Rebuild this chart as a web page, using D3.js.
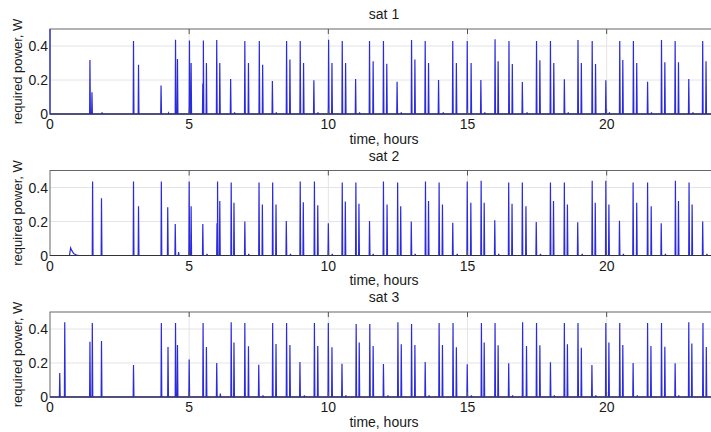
<!DOCTYPE html>
<html>
<head>
<meta charset="utf-8">
<script src="https://cdn.jsdelivr.net/npm/d3@7"></script>
<style>
  body { margin: 0; background: #fff; }
  text { font-family: "Liberation Sans", Arial, sans-serif; fill: #1a1a1a; }
</style>
</head>
<body>
<svg id="chart" width="711" height="432"></svg>
<script>
var titles = ["sat 1", "sat 2", "sat 3"];
var xTicks = [0, 5, 10, 15, 20];
var yTicks = [0, 0.2, 0.4];

// [time in hours, peak power in W]
var sat1Spikes = [
  [1.435,0.318],[1.507,0.128],[1.87,0.01],[3.0,0.43],[3.18,0.29],[3.99,0.167],[4.26,0.006],
  [4.51,0.437],[4.58,0.324],[5.01,0.433],[5.07,0.30],[5.49,0.18],[5.51,0.433],[5.62,0.30],
  [5.99,0.435],[6.1,0.30],[6.49,0.206],[6.63,0.01],[7.0,0.43],[7.13,0.30],[7.52,0.43],[7.64,0.29],
  [7.99,0.194],[8.13,0.01],[8.5,0.43],[8.62,0.32],[8.99,0.43],[9.11,0.30],[9.48,0.198],[9.63,0.01],
  [10.01,0.437],[10.13,0.30],[10.5,0.43],[10.62,0.30],[10.98,0.206],[11.12,0.01],[11.48,0.43],
  [11.61,0.31],[11.98,0.43],[12.1,0.295],[12.47,0.19],[12.62,0.01],[12.99,0.435],[13.11,0.32],
  [13.48,0.43],[13.6,0.30],[13.96,0.20],[14.13,0.01],[14.47,0.43],[14.6,0.30],[14.99,0.43],
  [15.13,0.30],[15.48,0.20],[15.62,0.01],[15.99,0.44],[16.1,0.31],[16.49,0.43],[16.61,0.294],
  [16.97,0.188],[17.14,0.01],[17.48,0.43],[17.6,0.316],[17.98,0.43],[18.1,0.30],[18.48,0.204],
  [18.62,0.01],[18.97,0.435],[19.09,0.30],[19.48,0.43],[19.6,0.294],[19.97,0.198],[20.1,0.01],
  [20.47,0.43],[20.58,0.318],[20.96,0.43],[21.08,0.30],[21.47,0.19],[21.61,0.01],[21.97,0.435],
  [22.09,0.305],[22.46,0.43],[22.58,0.305],[22.95,0.206],[23.1,0.01],[23.45,0.43],[23.57,0.31]
];

var sat2Hump = [[0.70,0],[0.74,0.045],[0.78,0.03],[0.85,0.012],[0.95,0.003],[1.05,0]];

var sat2Spikes = [
  [1.53,0.435],[1.85,0.337],[3.0,0.435],[3.18,0.29],[4.0,0.435],[4.23,0.284],[4.5,0.185],
  [4.62,0.02],[5.0,0.435],[5.07,0.29],[5.49,0.185],[5.64,0.01],[6.0,0.19],[6.02,0.435],[6.1,0.32],
  [6.51,0.43],[6.61,0.31],[7.0,0.20],[7.14,0.01],[7.51,0.43],[7.63,0.30],[8.0,0.43],[8.12,0.30],
  [8.49,0.203],[8.64,0.01],[8.99,0.435],[9.1,0.313],[9.5,0.435],[9.62,0.296],[10.0,0.19],
  [10.14,0.01],[10.5,0.43],[10.61,0.317],[10.99,0.43],[11.1,0.305],[11.48,0.203],[11.61,0.01],
  [11.98,0.435],[12.11,0.30],[12.49,0.43],[12.6,0.29],[12.98,0.20],[13.12,0.01],[13.49,0.435],
  [13.6,0.32],[13.98,0.43],[14.1,0.30],[14.47,0.193],[14.63,0.01],[14.99,0.435],[15.12,0.31],
  [15.49,0.44],[15.6,0.31],[15.98,0.207],[16.12,0.01],[16.48,0.43],[16.6,0.305],[16.97,0.43],
  [17.1,0.29],[17.47,0.197],[17.62,0.01],[17.98,0.43],[18.09,0.32],[18.48,0.43],[18.59,0.30],
  [18.96,0.195],[19.12,0.01],[19.48,0.44],[19.59,0.31],[19.97,0.44],[20.08,0.30],[20.46,0.205],
  [20.6,0.01],[20.95,0.43],[21.08,0.31],[21.47,0.43],[21.6,0.29],[21.96,0.19],[22.11,0.01],
  [22.47,0.44],[22.58,0.32],[22.96,0.43],[23.07,0.30],[23.45,0.20],[23.6,0.01]
];

var sat3Spikes = [
  [0.35,0.141],[0.53,0.44],[1.435,0.325],[1.52,0.435],[1.85,0.33],[3.0,0.188],[4.0,0.435],
  [4.24,0.294],[4.51,0.435],[4.58,0.306],[5.0,0.22],[5.5,0.435],[5.62,0.294],[5.99,0.20],
  [6.12,0.02],[6.51,0.44],[6.61,0.32],[7.0,0.435],[7.13,0.298],[7.5,0.19],[7.65,0.01],[8.0,0.435],
  [8.12,0.312],[8.5,0.435],[8.62,0.306],[8.98,0.206],[9.14,0.01],[9.5,0.435],[9.62,0.30],
  [10.0,0.435],[10.13,0.292],[10.49,0.196],[10.63,0.01],[11.0,0.43],[11.11,0.32],[11.49,0.43],
  [11.61,0.30],[11.98,0.194],[12.14,0.01],[12.5,0.44],[12.62,0.31],[12.99,0.43],[13.11,0.306],
  [13.48,0.206],[13.62,0.01],[13.98,0.435],[14.1,0.306],[14.48,0.435],[14.6,0.292],[14.99,0.192],
  [15.14,0.01],[15.5,0.435],[15.6,0.32],[15.99,0.435],[16.1,0.305],[16.48,0.198],[16.62,0.01],
  [16.98,0.44],[17.12,0.30],[17.48,0.435],[17.6,0.305],[17.98,0.204],[18.12,0.01],[18.48,0.435],
  [18.59,0.31],[18.97,0.435],[19.09,0.29],[19.47,0.188],[19.61,0.01],[19.97,0.435],[20.08,0.32],
  [20.47,0.435],[20.58,0.306],[20.95,0.20],[21.1,0.01],[21.47,0.435],[21.59,0.30],[21.97,0.435],
  [22.09,0.296],[22.46,0.198],[22.59,0.01],[22.95,0.44],[23.06,0.314],[23.46,0.435],[23.58,0.294]
];

// value at t = 0 (sat 1 starts off the top of the axis)
var startValues = [0.5, 0, 0];

var panels = [
  {spikes: sat1Spikes, extra: []},
  {spikes: sat2Spikes, extra: sat2Hump},
  {spikes: sat3Spikes, extra: []}
];

var svg = d3.select("#chart");
var left = 50, right = 718, plotH = 85, firstTop = 29, step = 141.5;

var x = d3.scaleLinear().domain([0, 24]).range([left, right]);

// turn each spike into a narrow pulse on the zero line
var toPoints = (start, spikes, extra) => {
  var pts = [[0, 0], [24, 0]].concat(extra);
  spikes.forEach(([t, h]) => {
    pts.push([t - 0.012, 0], [t, h], [t + 0.016, 0]);
  });
  pts.sort((a, b) => a[0] - b[0]);
  if (start > 0) pts.unshift([0, start]);
  return pts;
};

panels.forEach((p, i) => {
  var top = firstTop + i * step,
      bottom = top + plotH;

  var y = d3.scaleLinear().domain([0, 0.5]).range([bottom, top]);

  var g = svg.append("g");

  // grid
  g.selectAll(".vgrid").data(xTicks.filter(d => d > 0)).enter().append("line")
    .attr("x1", d => x(d)).attr("x2", d => x(d))
    .attr("y1", top).attr("y2", bottom)
    .attr("stroke", "#e4e4e4").attr("stroke-width", 1);
  g.selectAll(".hgrid").data(yTicks.filter(d => d > 0)).enter().append("line")
    .attr("x1", left).attr("x2", right)
    .attr("y1", d => y(d)).attr("y2", d => y(d))
    .attr("stroke", "#e4e4e4").attr("stroke-width", 1);

  // frame
  g.append("rect")
    .attr("x", left).attr("y", top)
    .attr("width", right - left).attr("height", plotH)
    .attr("fill", "none").attr("stroke", "#666").attr("stroke-width", 1);

  // data
  var line = d3.line().x(d => x(d[0])).y(d => y(d[1]));
  g.append("path")
    .datum(toPoints(startValues[i], p.spikes, p.extra))
    .attr("d", line)
    .attr("fill", "none")
    .attr("stroke", "#2a2ade")
    .attr("stroke-width", 1.2);

  g.append("line")
    .attr("x1", left).attr("x2", right)
    .attr("y1", bottom).attr("y2", bottom)
    .attr("stroke", "#333").attr("stroke-width", 1);

  // tick marks at top and bottom
  g.selectAll(".ttick").data(xTicks.filter(d => d > 0)).enter().append("line")
    .attr("x1", d => x(d)).attr("x2", d => x(d))
    .attr("y1", top).attr("y2", top + 5)
    .attr("stroke", "#555");
  g.selectAll(".btick").data(xTicks.filter(d => d > 0)).enter().append("line")
    .attr("x1", d => x(d)).attr("x2", d => x(d))
    .attr("y1", bottom).attr("y2", bottom - 5)
    .attr("stroke", "#555");

  // tick labels
  g.selectAll(".xlab").data(xTicks).enter().append("text")
    .attr("x", d => x(d)).attr("y", bottom + 15)
    .attr("text-anchor", "middle")
    .style("font-size", "14px")
    .text(d => d);
  g.selectAll(".ylab").data(yTicks).enter().append("text")
    .attr("x", left - 2).attr("y", d => y(d) + 5)
    .attr("text-anchor", "end")
    .style("font-size", "14px")
    .text(d => d === 0 ? "0" : d.toFixed(1));

  // titles and axis labels
  g.append("text")
    .attr("x", (left + right) / 2).attr("y", top - 10)
    .attr("text-anchor", "middle")
    .style("font-size", "14px")
    .text(titles[i]);
  g.append("text")
    .attr("x", (left + right) / 2).attr("y", bottom + 29.5)
    .attr("text-anchor", "middle")
    .style("font-size", "14px")
    .text("time, hours");
  g.append("text")
    .attr("transform", "translate(22," + (top + bottom) / 2 + ") rotate(-90)")
    .attr("text-anchor", "middle")
    .style("font-size", "13px")
    .text("required power, W");
});
</script>
</body>
</html>
